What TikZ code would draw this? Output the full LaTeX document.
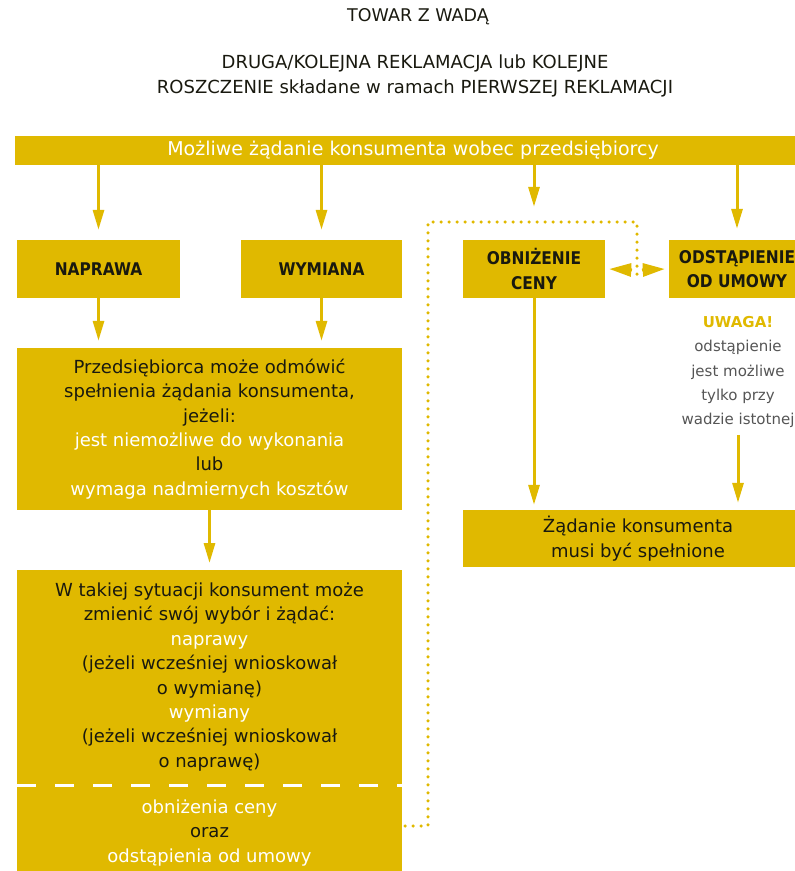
\documentclass[tikz,border=0pt]{standalone}
\usepackage{fontspec}
\setmainfont{DejaVu Sans}
\newfontfamily\lblfont{DejaVu Sans}[FakeStretch=0.88]
\usetikzlibrary{arrows.meta,calc}
\definecolor{gold}{RGB}{224,185,0}
\definecolor{ink}{RGB}{25,25,15}
\definecolor{grayt}{RGB}{85,85,85}
\begin{document}
\begin{tikzpicture}[x=1pt,y=-1pt,
  box/.style={fill=gold, inner sep=0pt, align=center, text=ink, font=\fontsize{18}{24.4}\selectfont},
  boxtext/.style={inner sep=0pt, align=center, text=ink, font=\fontsize{18}{24.4}\selectfont},
  lbl/.style={box, font=\lblfont\fontsize{17.5}{24.4}\selectfont\bfseries},
  arr/.style={draw=gold, line width=3pt, -{Triangle[length=20pt,width=11pt]}},
  headarr/.style={draw=gold, line width=3pt, -{Triangle[length=22pt,width=13pt]}},
  dots/.style={draw=gold, line width=3.5pt, line cap=round, dash pattern=on 0pt off 8pt}]
\useasboundingbox (0,0) rectangle (795,871);
% titles
\node[font=\fontsize{17.5}{20}\selectfont, text=ink] (title) at (418,17) {TOWAR Z WADĄ};
\node[font=\fontsize{18}{25}\selectfont, text=ink, align=center] (sub) at (415,76)
  {DRUGA/KOLEJNA REKLAMACJA lub KOLEJNE\\ROSZCZENIE składane w ramach PIERWSZEJ REKLAMACJI};
% bar
\node[box, text=white, font=\fontsize{19}{24.4}\selectfont, minimum width=796, minimum height=29] (bar) at (413,150.5)
  {Możliwe żądanie konsumenta wobec przedsiębiorcy};
% option boxes
\node[lbl, minimum width=163, minimum height=58] (naprawa) at (98.5,269) {NAPRAWA};
\node[lbl, minimum width=161, minimum height=58] (wymiana) at (321.5,269) {WYMIANA};
\node[lbl, minimum width=142, minimum height=58] (obn) at (534,269) {OBNIŻENIE\\CENY};
\node[lbl, minimum width=136, minimum height=58] (odst) at (737,269) {ODSTĄPIENIE\\OD UMOWY};
% box1
\node[box, minimum width=385, minimum height=162] (box1) at (209.5,429)
  {Przedsiębiorca może odmówić\\spełnienia żądania konsumenta,\\jeżeli:\\
   \textcolor{white}{jest niemożliwe do wykonania}\\lub\\
   \textcolor{white}{wymaga nadmiernych kosztów}};
% box2
\node[fill=gold, minimum width=385, minimum height=320, inner sep=0pt, anchor=north] (box2) at (209.5,570) {};
\node[boxtext] (box2top) at (209.5,677)
  {W takiej sytuacji konsument może\\zmienić swój wybór i żądać:\\
   \textcolor{white}{naprawy}\\(jeżeli wcześniej wnioskował\\o wymianę)\\
   \textcolor{white}{wymiany}\\(jeżeli wcześniej wnioskował\\o naprawę)};
\coordinate (dashL) at (17,785);
\coordinate (dashR) at (402,785);
\draw[white, line width=3pt, dash pattern=on 19pt off 19pt] (dashL) -- (dashR);
\node[boxtext] (box2bot) at (209.5,833)
  {\textcolor{white}{obniżenia ceny}\\oraz\\\textcolor{white}{odstąpienia od umowy}};
% uwaga
\node[inner sep=0pt, align=center, text=grayt, font=\fontsize{15}{24.3}\selectfont] (uwaga) at (738,372)
  {\textcolor{gold}{\bfseries UWAGA!}\\odstąpienie\\jest możliwe\\tylko przy\\wadzie istotnej};
% result
\node[box, minimum width=350, minimum height=57] (result) at (638,538.5)
  {Żądanie konsumenta\\musi być spełnione};
% arrows from bar
\draw[arr] (bar.south -| naprawa.north) -- ($(naprawa.north)+(0,-10)$);
\draw[arr] (bar.south -| wymiana.north) -- ($(wymiana.north)+(0,-10)$);
\draw[arr] (bar.south -| obn.north) -- ($(obn.north)+(0,-33)$);
\draw[arr] (bar.south -| odst.north) -- ($(odst.north)+(0,-11)$);
% arrows down
\draw[arr] (naprawa.south) -- ($(naprawa.south |- box1.north)+(0,-7)$);
\draw[arr] (wymiana.south) -- ($(wymiana.south |- box1.north)+(0,-7)$);
\draw[arr] (box1.south) -- ($(box2.north)+(0,-7)$);
\draw[arr] (obn.south) -- ($(obn.south |- result.north)+(0,-5)$);
\draw[arr] ($(uwaga.south)+(0,7)$) -- ($(uwaga.south |- result.north)+(0,-7)$);
% dotted connector
\coordinate (d1) at (428,826);
\coordinate (d2) at (428,222);
\coordinate (d3) at (637,222);
\coordinate (d4) at (637,280);
\draw[dots] ($(box2.north east)+(3,256)$) -- (d1) -- (d2) -- (d3) -- (d4);
\coordinate (dmid) at (637,270);
\draw[headarr] ($(dmid)+(-5,0)$) -- ($(obn.east)+(4,0)$);
\draw[headarr] ($(dmid)+(5,0)$) -- ($(odst.west)+(-4,0)$);
\end{tikzpicture}
\end{document}
